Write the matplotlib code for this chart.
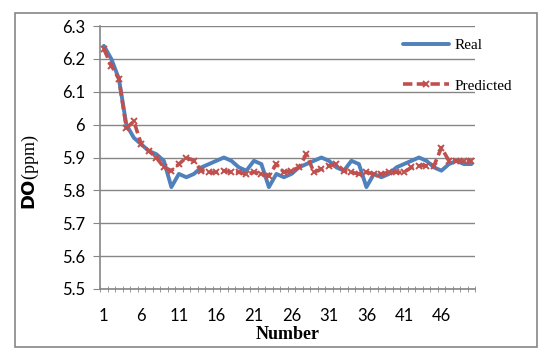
import numpy as np
import matplotlib.pyplot as plt
from matplotlib.ticker import FixedLocator, FuncFormatter
from matplotlib.patches import Rectangle

# Sample numbers (1..50)
number = np.arange(1, 51)

# Measured DO (ppm)
real = [6.24, 6.20, 6.14, 6.00, 5.96, 5.94, 5.92, 5.91, 5.89, 5.81,
        5.85, 5.84, 5.85, 5.87, 5.88, 5.89, 5.90, 5.89, 5.87, 5.86,
        5.89, 5.88, 5.81, 5.85, 5.84, 5.85, 5.87, 5.88, 5.89, 5.90,
        5.89, 5.87, 5.86, 5.89, 5.88, 5.81, 5.85, 5.84, 5.85, 5.87,
        5.88, 5.89, 5.90, 5.89, 5.87, 5.86, 5.88, 5.89, 5.88, 5.88]

# Model output (ppm)
predicted = [6.23, 6.18, 6.14, 5.99, 6.01, 5.94, 5.92, 5.90, 5.87, 5.86,
             5.88, 5.90, 5.89, 5.86, 5.855, 5.855, 5.86, 5.855, 5.855, 5.85,
             5.855, 5.85, 5.845, 5.88, 5.855, 5.86, 5.87, 5.91, 5.855, 5.865,
             5.875, 5.88, 5.86, 5.855, 5.85, 5.855, 5.85, 5.85, 5.855, 5.855,
             5.855, 5.87, 5.875, 5.875, 5.875, 5.93, 5.89, 5.89, 5.89, 5.89]

xtick_labels = [1, 6, 11, 16, 21, 26, 31, 36, 41, 46]
yticks = [5.5, 5.6, 5.7, 5.8, 5.9, 6.0, 6.1, 6.2, 6.3]

grey = '#868686'

fig = plt.figure(figsize=(5.5, 3.58), dpi=100)
ax = fig.add_axes([0.182, 0.193, 0.682, 0.734])

# outer chart border
fig.patches.append(Rectangle((0.027, 0.03), 0.949, 0.935, transform=fig.transFigure,
                             fill=False, edgecolor=grey, lw=1.2))

ax.plot(number, real, color='#4F81BD', lw=2.8, label='Real', solid_capstyle='round', zorder=3)
ax.plot(number, predicted, color='#C0504D', lw=2.6, ls=(0, (2.6, 1.2)), marker='x',
        ms=4, mew=1.4, label='Predicted', zorder=4)

ax.set_xlim(0.5, 50.5)
ax.set_ylim(5.5, 6.3)

ax.xaxis.set_major_locator(FixedLocator(xtick_labels))
ax.xaxis.set_minor_locator(FixedLocator(np.arange(0.5, 51, 1)))
ax.tick_params(axis='x', which='major', length=0, pad=14)
ax.tick_params(axis='x', which='minor', length=4, color=grey, direction='inout')

ax.set_yticks(yticks)
ax.yaxis.set_major_formatter(FuncFormatter(lambda v, p: '%g' % round(v, 1)))
ax.tick_params(axis='y', length=5, color=grey, pad=6)
ax.tick_params(labelsize=12)
for lab in ax.get_xticklabels() + ax.get_yticklabels():
    lab.set_family('Lato')

ax.grid(axis='y', color=grey, lw=1)
ax.set_axisbelow(True)
for s in ['top', 'right']:
    ax.spines[s].set_visible(False)
for s in ['left', 'bottom']:
    ax.spines[s].set_color(grey)
    ax.spines[s].set_linewidth(1.2)

ax.set_xlabel('Number', family='Liberation Serif', fontweight='bold', fontsize=13, labelpad=1)
fig.text(0.055, 0.52, r'$\mathbf{DO}$(ppm)', rotation=90, ha='center', va='center',
         family='Liberation Serif', fontsize=13)

leg = ax.legend(loc='upper left', bbox_to_anchor=(0.77, 1.005), frameon=False,
                prop={'family': 'Liberation Serif', 'size': 11},
                handlelength=3.0, handletextpad=0.4, labelspacing=1.75)

plt.savefig('out.png', dpi=100)
